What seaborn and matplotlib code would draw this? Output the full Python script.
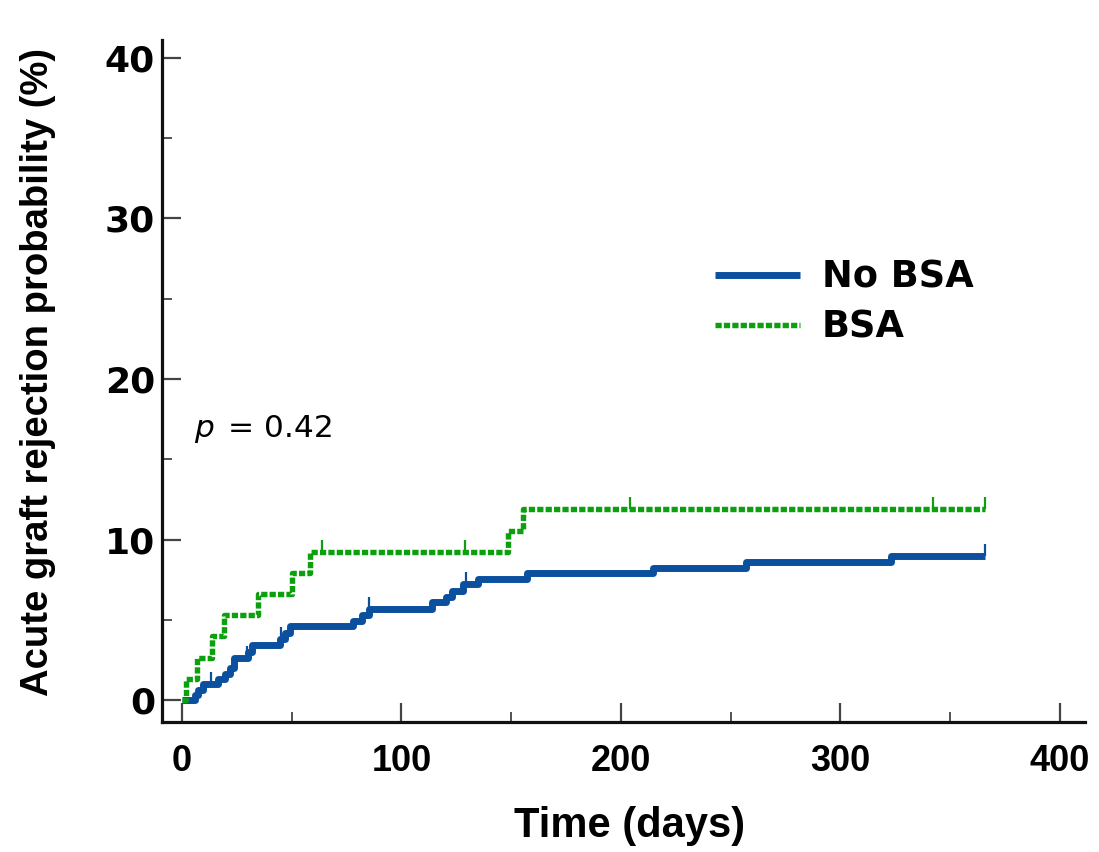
import numpy as np
import pandas as pd
import matplotlib
matplotlib.use("Agg")
import matplotlib.pyplot as plt
from matplotlib.ticker import MultipleLocator
import seaborn as sns

# ---- data ----
nobsa_days = [0, 6, 7.5, 9.5, 16.5, 19.5, 22, 23.5, 30, 32, 44.5, 47, 49,
              78, 82, 85, 114, 120.5, 123, 128, 135, 157, 214.5, 257, 323, 366]
nobsa_pct = [0, 0.3, 0.6, 1.0, 1.3, 1.6, 2.0, 2.6, 3.0, 3.4, 3.8, 4.2, 4.6,
             4.95, 5.3, 5.7, 6.1, 6.4, 6.8, 7.2, 7.55, 7.9, 8.25, 8.6, 8.95, 8.95]
nobsa_censor = [13, 29.5, 45, 85, 129.5, 366]

bsa_days = [0, 2, 7, 13.5, 19, 34.5, 50, 58.5, 148.5, 155.5, 366]
bsa_pct = [0, 1.3, 2.6, 4.0, 5.3, 6.6, 7.9, 9.2, 10.5, 11.9, 11.9]
bsa_censor = [64, 129, 204, 342, 366]

series_names = ["No BSA", "BSA"]
x_ticks = [0, 100, 200, 300, 400]
y_ticks = [0, 10, 20, 30, 40]
p_text = "= 0.42"

BLUE = "#0B509E"
GREEN = "#0CA00F"

sns.set_style("ticks")
plt.rcParams["font.family"] = ["Liberation Sans", "DejaVu Sans"]
plt.rcParams["text.color"] = "black"
plt.rcParams["xtick.labelcolor"] = "black"
plt.rcParams["ytick.labelcolor"] = "black"

fig = plt.figure(figsize=(10.99, 8.52), dpi=100)
ax = fig.add_axes([162 / 1099, 1 - 722 / 852, (1085 - 162) / 1099, (722 - 40) / 852])

df_n = pd.DataFrame({"days": nobsa_days, "pct": nobsa_pct})
df_b = pd.DataFrame({"days": bsa_days, "pct": bsa_pct})

sns.lineplot(data=df_n, x="days", y="pct", ax=ax, estimator=None, sort=False,
             drawstyle="steps-post", color=BLUE, lw=5.0, label=series_names[0],
             solid_capstyle="butt", zorder=3)
sns.lineplot(data=df_b, x="days", y="pct", ax=ax, estimator=None, sort=False,
             drawstyle="steps-post", color=GREEN, lw=3.9, label=series_names[1],
             linestyle=(0, (1.15, 0.4)), dash_capstyle="butt", zorder=3)


def level_at(days, pct, t):
    idx = np.searchsorted(np.asarray(days), np.asarray(t), side="right") - 1
    return np.asarray(pct)[idx]


tick_marker = [(0, 0), (0, 1)]
ax.plot(nobsa_censor, level_at(nobsa_days, nobsa_pct, nobsa_censor), ls="none",
        marker=tick_marker, ms=17, mew=1.6, mec=BLUE, zorder=4)
ax.plot(bsa_censor, level_at(bsa_days, bsa_pct, bsa_censor), ls="none",
        marker=tick_marker, ms=17, mew=1.6, mec=GREEN, zorder=4)

ax.set_xlim(-9.1, 411.4)
ax.set_ylim(-1.37, 41.12)
ax.set_xticks(x_ticks)
ax.set_yticks(y_ticks)
ax.xaxis.set_minor_locator(MultipleLocator(50))
ax.yaxis.set_minor_locator(MultipleLocator(5))

for s in ["top", "right"]:
    ax.spines[s].set_visible(False)
for s in ["left", "bottom"]:
    ax.spines[s].set_linewidth(2.3)
    ax.spines[s].set_color("#111111")

ax.tick_params(axis="both", which="major", direction="in", length=14, width=1.6,
               color="#444444")
ax.tick_params(axis="both", which="minor", direction="in", length=7, width=1.3,
               color="#444444")
ax.tick_params(axis="y", which="major", pad=5)
ax.tick_params(axis="x", which="major", pad=16)

for lab in ax.get_yticklabels():
    lab.set_fontfamily(["DejaVu Sans"])
    lab.set_fontweight("bold")
    lab.set_fontsize(26)
    lab.set_color("black")
for lab in ax.get_xticklabels():
    lab.set_fontfamily(["Liberation Sans", "DejaVu Sans"])
    lab.set_fontweight("bold")
    lab.set_fontsize(26)
    lab.set_color("black")

ax.set_xlabel("")
ax.set_ylabel("")
fig.text(630 / 1099, 1 - 826 / 852, "Time (days)", ha="center", va="center",
         fontsize=30, fontweight="bold", color="black",
         family=["Liberation Sans", "DejaVu Sans"])
fig.text(38 / 1099, 1 - 372 / 852, "Acute graft rejection probability (%)",
         ha="center", va="center", rotation=90, fontsize=27.5, fontweight="bold",
         color="black", family=["Liberation Sans", "DejaVu Sans"])

# p-value annotation
fig.text(194 / 1099, 1 - 437 / 852, "p", ha="left", va="baseline", fontsize=22.5,
         style="italic", color="black", family=["DejaVu Sans"])
fig.text(228 / 1099, 1 - 437 / 852, p_text, ha="left", va="baseline", fontsize=22.5,
         color="black", family=["DejaVu Sans"])

leg = ax.legend(loc="center left", bbox_to_anchor=(715 / 1099, 1 - 302 / 852),
                bbox_transform=fig.transFigure, frameon=False, borderpad=0,
                borderaxespad=0, handlelength=2.3, handletextpad=0.6,
                labelspacing=0.35, prop={"family": "DejaVu Sans",
                                         "weight": "bold", "size": 26.5})
for t in leg.get_texts():
    t.set_color("black")

fig.savefig("out.png", dpi=100)
